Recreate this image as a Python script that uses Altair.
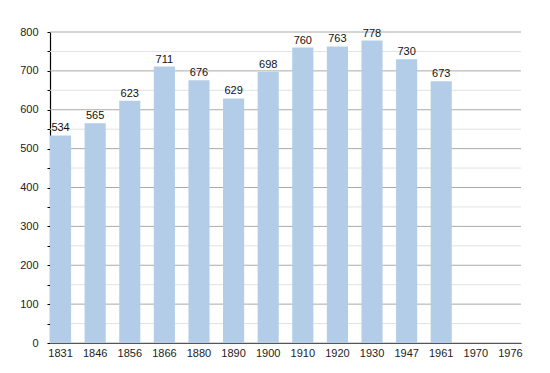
import altair as alt
import pandas as pd

years = ["1831", "1846", "1856", "1866", "1880", "1890", "1900", "1910", "1920", "1930", "1947", "1961", "1970", "1976"]
values = [534, 565, 623, 711, 676, 629, 698, 760, 763, 778, 730, 673, None, None]
major_ticks = [0, 100, 200, 300, 400, 500, 600, 700, 800]
minor_ticks = [50, 150, 250, 350, 450, 550, 650, 750]
all_ticks = sorted(major_ticks + minor_ticks)

df = pd.DataFrame({"year": years, "pop": values})

FONT = "Liberation Sans"

yscale = alt.Scale(domain=[0, 800], nice=False)
yaxis = alt.Axis(values=all_ticks, labelOverlap=False, grid=False,
                 labelExpr="datum.value % 100 === 0 ? datum.label : ''",
                 tickSize=3, tickColor="#000", domainColor="#000", domainWidth=1.2,
                 labelFont=FONT, labelFontSize=11, labelColor="#222", labelPadding=9)

x = alt.X("year:N", sort=years, title=None,
          scale=alt.Scale(paddingInner=0.39, paddingOuter=0),
          axis=alt.Axis(labelAngle=0, ticks=False, domainColor="#000", domainWidth=1.2,
                        labelFont=FONT, labelFontSize=11, labelColor="#222", labelPadding=4))

minor_grid = alt.Chart(pd.DataFrame({"v": minor_ticks})).mark_rule(color="#e2e2e2", strokeWidth=1).encode(
    y=alt.Y("v:Q", scale=yscale, title=None, axis=yaxis))
major_grid = alt.Chart(pd.DataFrame({"v": major_ticks})).mark_rule(color="#aaaaaa", strokeWidth=1).encode(
    y=alt.Y("v:Q", scale=yscale, title=None, axis=yaxis))

bars = alt.Chart(df).mark_bar(color="#b3cde8").encode(
    x=x, y=alt.Y("pop:Q", title=None, scale=yscale, axis=yaxis))
labels = alt.Chart(df).mark_text(baseline="bottom", dy=-2, font=FONT, fontSize=11, color="#111").encode(
    x=alt.X("year:N", sort=years), y=alt.Y("pop:Q", scale=yscale, title=None, axis=yaxis), text="pop:Q")

chart = alt.layer(minor_grid, major_grid, bars, labels).properties(
    width=471, height=311,
    autosize=alt.AutoSizeParams(type="none"),
    padding={"left": 42, "top": 24, "right": 10, "bottom": 20},
).configure_view(stroke=None)

chart.save("out.html", embed_options={"renderer": "svg", "actions": False})
